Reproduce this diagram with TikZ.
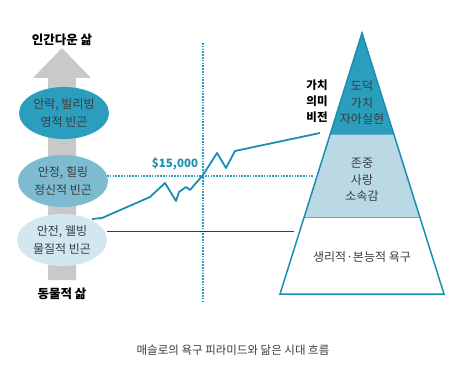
\documentclass[tikz,border=0pt]{standalone}
\usepackage{fontspec}
\setmainfont{Noto Sans CJK KR}
\usetikzlibrary{calc, shapes.geometric}

\definecolor{tealdark}{HTML}{2B9DBD}
\definecolor{tealline}{HTML}{1B8DB0}
\definecolor{tealmid}{HTML}{7DBBD1}
\definecolor{teallight}{HTML}{D2E7EF}
\definecolor{pyrmid}{HTML}{BAD9E5}
\definecolor{arrowgray}{HTML}{C9C9C9}
\definecolor{textgray}{HTML}{3C3C3C}

\tikzset{
  stage/.style={ellipse, minimum width=90pt, minimum height=52pt, align=center,
    font=\fontsize{12}{17.5}\selectfont, text=textgray, inner sep=0pt},
  level/.style={align=center, font=\fontsize{12}{16.5}\selectfont, text=textgray},
  lifelabel/.style={font=\fontsize{12.5}{15}\selectfont\bfseries, text=black},
  guide/.style={tealdark, dash pattern=on 1.6pt off 1.2pt, line width=1.2pt}
}

\begin{document}
\begin{tikzpicture}[x=1pt, y=-1pt]
\useasboundingbox (0,0) rectangle (465,371);

% Gray arrow behind the stages
\fill[arrowgray] (48,280) -- (48,78) -- (33,78) -- (62,48) -- (91,78) -- (76,78) -- (76,280) -- cycle;
\node[lifelabel] (top) at (62,40) {인간다운 삶};
\node[lifelabel] (bottom) at (62,294) {동물적 삶};

% Guide lines
\coordinate (vtop) at (203,43);
\coordinate (vbot) at (203,303);
\draw[guide] (vtop) -- (vbot);
\coordinate (hleft) at (107,176);
\coordinate (hright) at (314,176);
\draw[guide] (hleft) -- (hright);
\coordinate (gleft) at (107,231);
\coordinate (gright) at (294,231);
\draw[textgray, line width=0.7pt] (gleft) -- (gright);

% Stages
\node[stage, fill=tealdark] (spirit) at (64,113) {안락, 빌리빙\\영적 빈곤};
\node[stage, fill=tealmid] (mind) at (63,181) {안정, 힐링\\정신적 빈곤};
\node[stage, fill=teallight] (matter) at (62,240) {안전, 웰빙\\물질적 빈곤};

% Income line
\draw[tealline, line width=1.8pt, line join=round]
  (92,219) -- (102,218) -- (150,197) -- (165,183) -- (176,201) -- (179,192)
  -- (186,187) -- (190,190) -- (203,175) -- (217,153) -- (226,168)
  -- (235,151) -- (320,133);
\node[font=\fontsize{11.5}{14}\selectfont\bfseries, text=tealline] (income) at (175,164) {\$15,000};

% Pyramid
\coordinate (apex) at (362,33);
\coordinate (bl) at (280,294);
\coordinate (br) at (444,294);
\coordinate (l1) at ($(apex)!{(135-33)/(294-33)}!(bl)$);
\coordinate (r1) at ($(apex)!{(135-33)/(294-33)}!(br)$);
\coordinate (l2) at ($(apex)!{(218-33)/(294-33)}!(bl)$);
\coordinate (r2) at ($(apex)!{(218-33)/(294-33)}!(br)$);
\fill[tealdark] (apex) -- (r1) -- (l1) -- cycle;
\fill[pyrmid] (l1) -- (r1) -- (r2) -- (l2) -- cycle;
\draw[tealline!70, line width=1pt] (l1) -- (r1) (l2) -- (r2);
\draw[tealline, line width=1.5pt, line join=miter] (apex) -- (br) -- (bl) -- cycle;

\node[level] (self) at (362,103) {도덕\\가치\\자아실현};
\node[level] (love) at (362,180) {존중\\사랑\\소속감};
\node[level] (body) at (362,257) {생리적·본능적 욕구};
\node[lifelabel, align=center, font=\fontsize{11.5}{16}\selectfont\bfseries] (vision) at (317,101) {가치\\의미\\비전};

\node[font=\fontsize{11.5}{14}\selectfont, text=textgray] (caption) at (233,350) {매슬로의 욕구 피라미드와 닮은 시대 흐름};

\end{tikzpicture}
\end{document}
